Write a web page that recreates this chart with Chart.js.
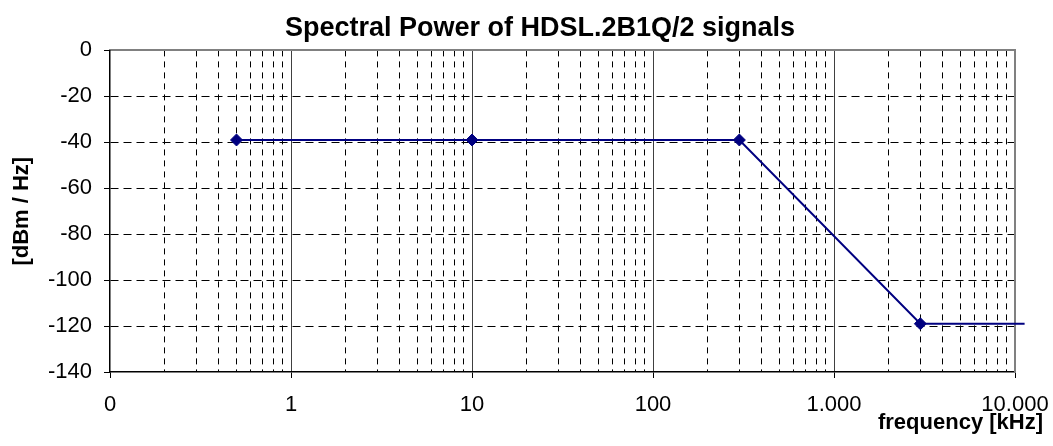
<!DOCTYPE html>
<html>
<head>
<meta charset="utf-8">
<title>Spectral Power of HDSL.2B1Q/2 signals</title>
<script src="https://cdn.jsdelivr.net/npm/chart.js@4.4.1/dist/chart.umd.min.js"></script>
<style>
    html, body { margin: 0; padding: 0; background: #ffffff; }
    canvas { display: block; }
</style>
</head>
<body>
<canvas id="spectrumChart" width="1053" height="446"></canvas>
<script>
// Chart data: frequency in kHz, power density in dBm/Hz
const frequencies = [0.5, 10, 300, 3000, 11300];
const powerLevels = [-39, -39, -39, -119, -119];

// Axis ticks and labels
const decadeValues = [0.1, 1, 10, 100, 1000, 10000];
const decadeLabels = ['0', '1', '10', '100', '1.000', '10.000'];
const yMin = -140;
const yMax = 0;
const yStep = 20;

const chartTitle = 'Spectral Power of HDSL.2B1Q/2 signals';
const xTitle = 'frequency [kHz]';
const yTitle = '[dBm / Hz]';

const FONT = "'Liberation Sans', Arial, sans-serif";
const LINE_COLOR = '#000080';

function isDecade(v) {
    const l = Math.log10(v);
    return Math.abs(l - Math.round(l)) < 1e-6;
}

// 1..9 ticks per decade for the minor grid
function minorTicks() {
    const ticks = [];
    for (let i = 0; i < decadeValues.length - 1; i++) {
        for (let m = 1; m < 10; m++) {
            ticks.push({ value: decadeValues[i] * m });
        }
    }
    ticks.push({ value: decadeValues[decadeValues.length - 1] });
    return ticks;
}

function decadeLabel(value) {
    const i = decadeValues.findIndex(d => Math.abs(d - value) < d * 1e-6);
    return i >= 0 ? decadeLabels[i] : '';
}

const ctx = document.getElementById('spectrumChart');

new Chart(ctx, {
    type: 'line',
    data: {
        datasets: [{
            label: 'HDSL.2B1Q/2',
            data: frequencies.map((f, i) => ({ x: f, y: powerLevels[i] })),
            borderColor: LINE_COLOR,
            backgroundColor: LINE_COLOR,
            borderWidth: 2,
            tension: 0,
            fill: false,
            clip: false,
            pointStyle: 'rectRot',
            pointRadius: c => c.dataIndex < frequencies.length - 1 ? 6 : 0,
            pointBorderWidth: 1,
            pointBorderColor: LINE_COLOR,
            pointBackgroundColor: LINE_COLOR
        }]
    },
    options: {
        responsive: false,
        animation: false,
        layout: {
            padding: { left: 37, right: 10, top: 0, bottom: 0 }
        },
        plugins: {
            legend: { display: false },
            tooltip: { enabled: false },
            title: {
                display: true,
                text: chartTitle,
                color: '#000000',
                font: { family: FONT, size: 27, weight: 'bold', lineHeight: 1.2 },
                padding: { top: 12, bottom: 6 }
            },
            subtitle: {
                display: true,
                position: 'bottom',
                align: 'end',
                text: xTitle,
                color: '#000000',
                font: { family: FONT, size: 22, weight: 'bold', lineHeight: 1.2 },
                padding: { top: -9, bottom: 9.6 }
            }
        },
        scales: {
            x: {
                type: 'logarithmic',
                position: 'bottom',
                min: decadeValues[0],
                max: decadeValues[decadeValues.length - 1],
                afterBuildTicks: scale => { scale.ticks = minorTicks(); },
                afterFit: scale => {
                    scale.height = 47;
                    scale.paddingLeft = 0;
                    scale.paddingRight = 0;
                },
                ticks: {
                    autoSkip: false,
                    maxRotation: 0,
                    minRotation: 0,
                    padding: 14,
                    color: '#000000',
                    font: { family: FONT, size: 22 },
                    callback: value => decadeLabel(value)
                },
                grid: {
                    color: c => (c.tick && isDecade(c.tick.value)) ? 'rgba(0,0,0,0)' : '#000000',
                    lineWidth: 1,
                    tickLength: 6,
                    tickColor: c => (c.tick && isDecade(c.tick.value)) ? '#000000' : 'rgba(0,0,0,0)'
                },
                border: { color: '#000000', width: 1.5, dash: [6, 5] }
            },
            xMajor: {
                type: 'logarithmic',
                position: 'top',
                min: decadeValues[0],
                max: decadeValues[decadeValues.length - 1],
                afterBuildTicks: scale => { scale.ticks = decadeValues.map(v => ({ value: v })); },
                afterFit: scale => { scale.height = 0; },
                ticks: { display: false, autoSkip: false },
                grid: {
                    color: c => (c.index === 0 || c.index === decadeValues.length - 1) ? 'rgba(0,0,0,0)' : '#404040',
                    lineWidth: 1,
                    drawTicks: false
                },
                border: { color: '#808080', width: 2 }
            },
            y: {
                type: 'linear',
                position: 'left',
                min: yMin,
                max: yMax,
                afterFit: scale => { scale.width = 73; },
                ticks: {
                    stepSize: yStep,
                    padding: 12,
                    color: '#000000',
                    font: { family: FONT, size: 22 }
                },
                grid: {
                    color: c => (c.tick && (c.tick.value === yMin || c.tick.value === yMax)) ? 'rgba(0,0,0,0)' : '#000000',
                    lineWidth: 1,
                    tickLength: 6,
                    tickColor: '#000000'
                },
                border: { color: '#000000', width: 1.5, dash: [8, 5] },
                title: {
                    display: true,
                    text: yTitle,
                    color: '#000000',
                    font: { family: FONT, size: 22, weight: 'bold', lineHeight: 1.2 },
                    padding: { top: -28, bottom: 0 }
                }
            },
            yRight: {
                type: 'linear',
                position: 'right',
                min: yMin,
                max: yMax,
                afterFit: scale => { scale.width = 28; },
                ticks: { display: false },
                grid: { color: 'rgba(0,0,0,0)', drawTicks: false },
                border: { color: '#808080', width: 2 }
            }
        }
    }
});
</script>
</body>
</html>
